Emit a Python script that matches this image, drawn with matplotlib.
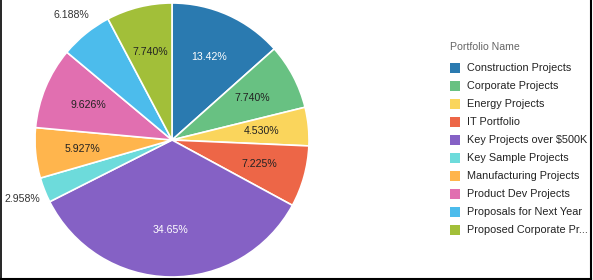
import matplotlib.pyplot as plt
from matplotlib.patches import Rectangle
from matplotlib.lines import Line2D
import numpy as np

plt.rcParams['font.family'] = ['Liberation Sans', 'DejaVu Sans']

portfolios = ['Construction Projects', 'Corporate Projects', 'Energy Projects',
              'IT Portfolio', 'Key Projects over $500K', 'Key Sample Projects',
              'Manufacturing Projects', 'Product Dev Projects',
              'Proposals for Next Year', 'Proposed Corporate Pr...']
shares = [13.42, 7.740, 4.530, 7.225, 34.65, 2.958, 5.927, 9.626, 6.188, 7.740]
labels = ['13.42%', '7.740%', '4.530%', '7.225%', '34.65%', '2.958%',
          '5.927%', '9.626%', '6.188%', '7.740%']
colors = ['#2a7ab0', '#68c182', '#fad55c', '#ed6647', '#8561c5', '#6ddbdb',
          '#ffb54d', '#e16fb0', '#4cbcec', '#a2bf39']
text_colors = ['white', '#222222', '#222222', '#222222', 'white', '#333333',
               '#222222', '#222222', '#333333', '#222222']
outside = [False, False, False, False, False, True, False, False, True, False]

fig = plt.figure(figsize=(5.93, 2.80), dpi=100)
ax = fig.add_axes([172 / 593 - 137 / 593, 3 / 280, 274 / 593, 274 / 280])

wedges, _ = ax.pie(shares, colors=colors, startangle=90, counterclock=False,
                   wedgeprops=dict(edgecolor='white', linewidth=1.2))
ax.set_aspect('equal')
ax.set_xlim(-1, 1)
ax.set_ylim(-1, 1)

# percent labels, small slices get theirs outside
for w, lab, tc, out in zip(wedges, labels, text_colors, outside):
    mid = np.deg2rad((w.theta1 + w.theta2) / 2)
    r = 1.17 if out else 0.66
    ax.text(r * np.cos(mid), r * np.sin(mid), lab, ha='center', va='center',
            fontsize=7.6, color=tc, clip_on=False)

# legend
fig.text(450 / 593, 1 - 47 / 280, 'Portfolio Name', fontsize=7.6,
         color='#666666', va='center', ha='left')
for i, (name, c) in enumerate(zip(portfolios, colors)):
    y = 68 + 18 * i
    fig.patches.append(Rectangle((450 / 593, 1 - (y + 5) / 280), 10 / 593, 10 / 280,
                                 transform=fig.transFigure, facecolor=c,
                                 edgecolor='none'))
    fig.text(467 / 593, 1 - y / 280, name, fontsize=7.85, color='#222222',
             va='center', ha='left')

# frame
fig.lines.append(Line2D([0.5 / 593, 0.5 / 593], [0, 1], transform=fig.transFigure,
                        color='black', linewidth=1.2))
fig.lines.append(Line2D([591 / 593, 591 / 593], [0, 1], transform=fig.transFigure,
                        color='black', linewidth=1.5))
fig.lines.append(Line2D([0, 591 / 593], [1 / 280, 1 / 280], transform=fig.transFigure,
                        color='black', linewidth=1.5))

fig.savefig('out.png', dpi=100)
